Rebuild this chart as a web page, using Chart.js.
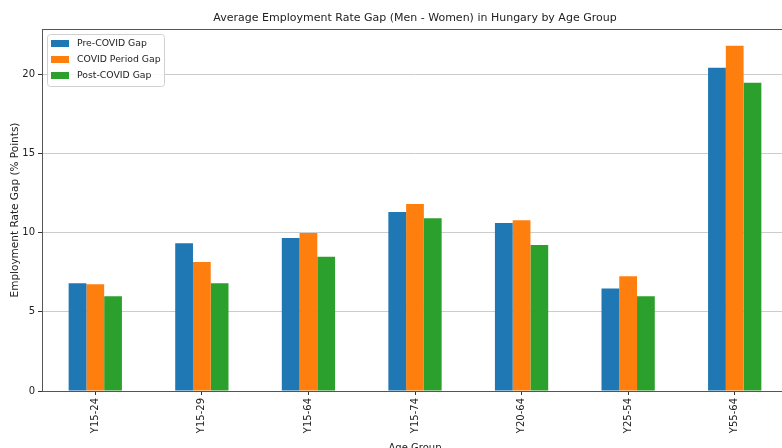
<!DOCTYPE html>
<html lang="en">
<head>
    <meta charset="UTF-8">
    <title>Average Employment Rate Gap by Age Group</title>
    <style>
        body {
            margin: 0;
            background-color: #ffffff;
            overflow: hidden;
        }
        #wrap {
            width: 830px;
            height: 448px;
        }
    </style>
</head>
<body>
    <div id="wrap"><canvas id="gapChart" width="830" height="448"></canvas></div>

    <script src="https://cdn.jsdelivr.net/npm/chart.js"></script>
    <script>
        // data
        const ageGroups = ['Y15-24', 'Y15-29', 'Y15-64', 'Y15-74', 'Y20-64', 'Y25-54', 'Y55-64'];
        const preCovid = [6.8, 9.32, 9.65, 11.3, 10.6, 6.47, 20.4];
        const covidPeriod = [6.74, 8.15, 9.98, 11.8, 10.78, 7.24, 21.8];
        const postCovid = [5.98, 6.8, 8.48, 10.9, 9.22, 5.98, 19.45];
        const yTicks = [0, 5, 10, 15, 20];

        const seriesNames = ['Pre-COVID Gap', 'COVID Period Gap', 'Post-COVID Gap'];
        const seriesColors = ['#1f77b4', '#ff7f0e', '#2ca02c'];
        const chartTitle = 'Average Employment Rate Gap (Men - Women) in Hungary by Age Group';
        const fontFamily = '"DejaVu Sans", sans-serif';

        // title centred over the plot, frame around the plot, legend box top left
        const frameAndLegend = {
            id: 'frameAndLegend',
            afterDraw(chart) {
                const ctx = chart.ctx;
                const a = chart.chartArea;
                ctx.save();
                ctx.strokeStyle = '#555';
                ctx.lineWidth = 1;
                ctx.strokeRect(a.left + 0.5, a.top + 0.5, a.right - a.left, a.bottom - a.top);

                ctx.fillStyle = '#222';
                ctx.font = '11px ' + fontFamily;
                ctx.textAlign = 'center';
                ctx.textBaseline = 'middle';
                ctx.fillText(chartTitle, (a.left + a.right) / 2, 18);

                // legend
                const x = a.left + 5, y = a.top + 5, w = 117, h = 52;
                ctx.fillStyle = 'rgba(255,255,255,0.85)';
                ctx.strokeStyle = '#d0d0d0';
                ctx.beginPath();
                ctx.roundRect(x + 0.5, y + 0.5, w, h, 3);
                ctx.fill();
                ctx.stroke();
                ctx.font = '9.3px ' + fontFamily;
                ctx.textAlign = 'left';
                chart.data.datasets.forEach((ds, i) => {
                    const cy = y + 9.5 + i * 16;
                    ctx.fillStyle = ds.backgroundColor;
                    ctx.fillRect(x + 4, cy - 3.5, 18, 7);
                    ctx.fillStyle = '#222';
                    ctx.fillText(ds.label, x + 30, cy);
                });
                ctx.restore();
            }
        };

        const ctx = document.getElementById('gapChart').getContext('2d');
        new Chart(ctx, {
            type: 'bar',
            data: {
                labels: ageGroups,
                datasets: [preCovid, covidPeriod, postCovid].map((vals, i) => ({
                    label: seriesNames[i],
                    data: vals,
                    backgroundColor: seriesColors[i],
                    borderWidth: 0,
                    categoryPercentage: 0.5,
                    barPercentage: 1.0
                }))
            },
            options: {
                responsive: false,
                animation: false,
                layout: { padding: { left: 4, right: 42, top: 29, bottom: 0 } },
                plugins: {
                    legend: { display: false },
                    tooltip: { enabled: false },
                    title: { display: false }
                },
                scales: {
                    x: {
                        grid: {
                            offset: false,
                            drawOnChartArea: false,
                            drawTicks: true,
                            tickLength: 4,
                            tickColor: '#333'
                        },
                        border: { display: true, color: '#333' },
                        ticks: {
                            minRotation: 90,
                            maxRotation: 90,
                            padding: 3,
                            color: '#222',
                            font: { family: fontFamily, size: 10 }
                        },
                        title: {
                            display: true,
                            text: 'Age Group',
                            color: '#222',
                            font: { family: fontFamily, size: 10 },
                            padding: { top: 0, bottom: -6 }
                        },
                        afterFit(scale) { scale.height = 57; }
                    },
                    y: {
                        min: 0,
                        max: 22.85,
                        afterBuildTicks(scale) {
                            scale.ticks = yTicks.map(v => ({ value: v }));
                        },
                        ticks: {
                            padding: 3,
                            color: '#222',
                            font: { family: fontFamily, size: 10 }
                        },
                        grid: {
                            color: '#cccccc',
                            lineWidth: 1,
                            tickLength: 4,
                            tickColor: '#333'
                        },
                        border: { display: true, color: '#333' },
                        title: {
                            display: true,
                            text: 'Employment Rate Gap (% Points)',
                            color: '#222',
                            font: { family: fontFamily, size: 10.5 },
                            padding: { top: 5, bottom: 0 }
                        },
                        afterFit(scale) { scale.width = 38; }
                    }
                }
            },
            plugins: [frameAndLegend]
        });
    </script>
</body>
</html>
